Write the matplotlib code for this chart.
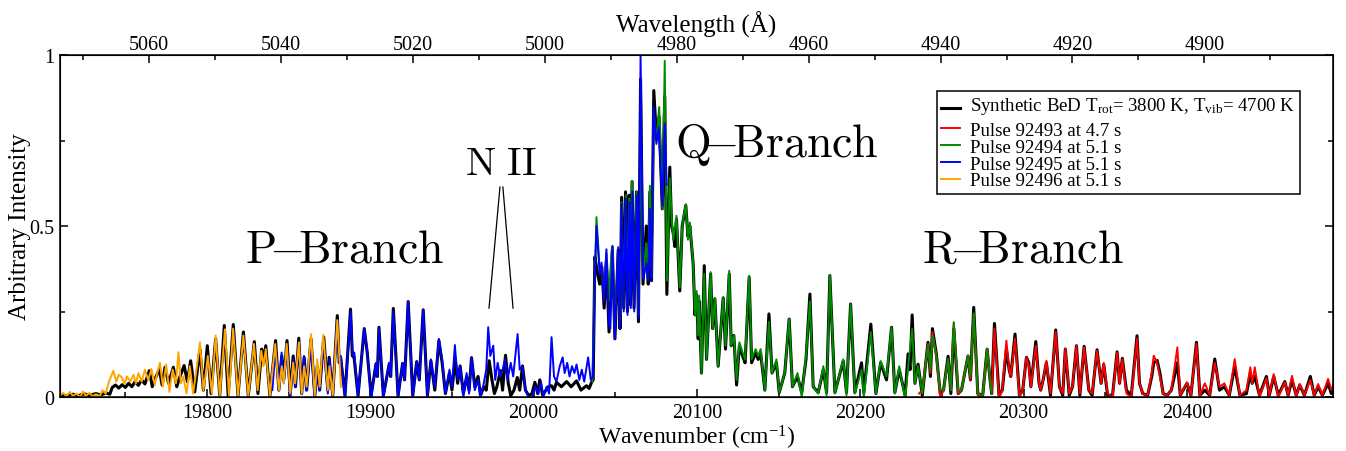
import numpy as np
import matplotlib
matplotlib.use("Agg")
import matplotlib.pyplot as plt
from matplotlib.ticker import MultipleLocator, FixedLocator, FuncFormatter

plt.rcParams.update({
    "font.family": "Liberation Serif",
    "mathtext.fontset": "custom",
    "mathtext.rm": "Liberation Serif",
    "mathtext.it": "Liberation Serif:italic",
    "font.size": 14,
})

# (wavenumber cm^-1, intensity) vertices
bed_pts = [
    (19710, 0.006), (19714, 0.004), (19718, 0.008), (19721, 0.004), (19725, 0.009), (19728, 0.005),
    (19732, 0.010), (19735, 0.006), (19738, 0.012), (19740.5, 0.008), (19742, 0.028), (19744, 0.035),
    (19746, 0.026), (19748, 0.036), (19750, 0.028), (19752, 0.040), (19754, 0.030), (19756, 0.045),
    (19758, 0.034), (19760, 0.050), (19762, 0.038), (19764.7, 0.077), (19766.5, 0.030), (19768, 0.050),
    (19770.8, 0.082), (19772.5, 0.035), (19774.3, 0.087), (19776.5, 0.040), (19779.4, 0.087),
    (19781.5, 0.030), (19783.5, 0.060), (19786, 0.092), (19788, 0.045), (19790, 0.106), (19792.5, 0.015),
    (19795.7, 0.140), (19797.8, 0.020), (19800.2, 0.150), (19802.5, 0.010), (19805.3, 0.170),
    (19807.8, 0.005), (19810.6, 0.209), (19813, 0.004), (19816.1, 0.212), (19819, 0.004),
    (19822.3, 0.190), (19825.3, 0.004), (19829, 0.162), (19831.2, 0.010), (19833.5, 0.140),
    (19834.6, 0.100), (19836, 0.150), (19838.5, 0.004), (19842, 0.165), (19844, 0.020), (19845.8, 0.120),
    (19847, 0.050), (19849, 0.165), (19851, 0.010), (19852.8, 0.120), (19854.2, 0.030), (19856.2, 0.172),
    (19858, 0.010), (19859.5, 0.116), (19861, 0.020), (19863.7, 0.170), (19866, 0.004), (19867.5, 0.090),
    (19869, 0.020), (19871.5, 0.175), (19874, 0.020), (19874.8, 0.116), (19877, 0.004), (19879.8, 0.238),
    (19881, 0.100), (19881.8, 0.116), (19884.5, 0.004), (19887.9, 0.257), (19889, 0.120), (19890, 0.119),
    (19892.5, 0.004), (19896.3, 0.200), (19898.1, 0.131), (19900.5, 0.004), (19903.5, 0.097),
    (19904.3, 0.060), (19905.3, 0.204), (19908, 0.004), (19911.6, 0.097), (19912.5, 0.060),
    (19914.1, 0.259), (19917, 0.004), (19919.8, 0.098), (19921, 0.050), (19923.2, 0.279), (19926, 0.004),
    (19928.4, 0.103), (19930, 0.050), (19932.4, 0.255), (19935, 0.004), (19937.1, 0.106), (19939.5, 0.020),
    (19942, 0.165), (19944, 0.100), (19946, 0.010), (19948.5, 0.070), (19950, 0.020), (19952, 0.110),
    (19953.5, 0.040), (19955, 0.091), (19957, 0.010), (19959, 0.060), (19960.5, 0.020), (19962, 0.115),
    (19964, 0.030), (19966, 0.060), (19967.5, 0.004), (19969.5, 0.030), (19971, 0.020), (19972.8, 0.106),
    (19974.5, 0.050), (19976, 0.010), (19977.5, 0.030), (19979.7, 0.077), (19981, 0.020), (19982.8, 0.122),
    (19984.5, 0.040), (19986, 0.004), (19988, 0.020), (19990, 0.057), (19991.5, 0.020), (19993.2, 0.091),
    (19995, 0.020), (19997, 0.004), (19999, 0.010), (20000.8, 0.043), (20002.5, 0.010), (20003.8, 0.050),
    (20005.5, 0.006), (20009, 0.030), (20011, 0.033), (20012.5, 0.020), (20014, 0.043), (20017, 0.030),
    (20020.2, 0.045), (20023, 0.030), (20026.3, 0.047), (20029, 0.020), (20032.4, 0.033), (20034, 0.025),
    (20035.5, 0.043), (20036.5, 0.050), (20037.5, 0.410), (20039.2, 0.360), (20040.5, 0.330),
    (20041.8, 0.380), (20043.2, 0.260), (20044.6, 0.400), (20046.2, 0.190), (20048.2, 0.430),
    (20049.8, 0.170), (20051.8, 0.430), (20052.9, 0.200), (20053.9, 0.584), (20055.2, 0.260),
    (20056.3, 0.600), (20057.5, 0.250), (20058.5, 0.590), (20059.3, 0.270), (20060.3, 0.630),
    (20061.5, 0.260), (20063.0, 0.600), (20064.2, 0.220), (20065.5, 0.930), (20067.0, 0.330),
    (20069.0, 0.500), (20070.2, 0.330), (20071.2, 0.600), (20072.2, 0.340), (20073.6, 0.896),
    (20075.2, 0.760), (20076.8, 0.820), (20078.8, 0.550), (20080.3, 0.880), (20081.6, 0.300),
    (20083.4, 0.672), (20084.5, 0.500), (20085.5, 0.480), (20086.5, 0.440), (20087.5, 0.520),
    (20089.5, 0.310), (20091, 0.500), (20093.2, 0.560), (20094.5, 0.470), (20095.7, 0.500),
    (20097.7, 0.390), (20098.8, 0.240), (20099.8, 0.300), (20100.8, 0.170), (20101.4, 0.280),
    (20102.8, 0.070), (20104.5, 0.384), (20105.9, 0.110), (20108.4, 0.360), (20109.6, 0.200),
    (20111, 0.287), (20113, 0.090), (20116.1, 0.290), (20117.5, 0.140), (20119.8, 0.360), (20121, 0.150),
    (20122.6, 0.180), (20124.3, 0.035), (20126, 0.150), (20128, 0.120), (20129.5, 0.100), (20132, 0.350),
    (20133.5, 0.100), (20136, 0.130), (20137.5, 0.110), (20139, 0.130), (20141.6, 0.020), (20144.1, 0.243),
    (20146, 0.070), (20148.7, 0.100), (20150.4, 0.013), (20153.8, 0.070), (20156.5, 0.228),
    (20158.5, 0.030), (20161.6, 0.060), (20164.2, 0.013), (20166.8, 0.110), (20169.2, 0.301),
    (20171.2, 0.030), (20174.3, 0.013), (20177.4, 0.080), (20179.4, 0.013), (20181.4, 0.355),
    (20184.5, 0.013), (20189.6, 0.105), (20191.6, 0.013), (20194.1, 0.272), (20196.7, 0.013),
    (20200.8, 0.100), (20202.2, 0.013), (20206.5, 0.213), (20209.6, 0.010), (20212.5, 0.100),
    (20216.1, 0.050), (20219.2, 0.204), (20221.2, 0.013), (20223.9, 0.080), (20227.5, 0.005),
    (20229.3, 0.126), (20230.5, 0.080), (20231.8, 0.240), (20233.5, 0.040), (20235.4, 0.096),
    (20238, 0.005), (20241.5, 0.160), (20243, 0.060), (20244.2, 0.200), (20246.6, 0.126), (20249, 0.010),
    (20251, 0.020), (20253.8, 0.119), (20255.5, 0.010), (20257.3, 0.200), (20260, 0.010), (20262, 0.020),
    (20266, 0.120), (20267.5, 0.050), (20269.5, 0.262), (20272, 0.010), (20275, 0.005), (20277.7, 0.140),
    (20279.5, 0.050), (20280.5, 0.010), (20282.2, 0.215), (20285, 0.005), (20287, 0.020), (20289.5, 0.140),
    (20291.2, 0.080), (20292.2, 0.060), (20294.8, 0.184), (20297.5, 0.005), (20299.5, 0.020),
    (20301.8, 0.116), (20303.2, 0.100), (20304.5, 0.030), (20307.5, 0.162), (20309.5, 0.040),
    (20310.5, 0.020), (20312, 0.050), (20314, 0.100), (20316.5, 0.005), (20319.7, 0.196), (20322, 0.030),
    (20324, 0.005), (20325.6, 0.140), (20328, 0.005), (20330, 0.030), (20332.4, 0.150), (20334.5, 0.005),
    (20337.1, 0.148), (20340, 0.020), (20342, 0.005), (20345, 0.138), (20347.5, 0.040), (20349.1, 0.095),
    (20351.5, 0.005), (20354.5, 0.005), (20357.3, 0.132), (20358.8, 0.040), (20360.5, 0.113),
    (20363, 0.020), (20366, 0.005), (20369.5, 0.179), (20371, 0.040), (20373, 0.010), (20376, 0.005),
    (20378.5, 0.060), (20379.7, 0.100), (20381.8, 0.107), (20383.5, 0.070), (20385.5, 0.010),
    (20388, 0.005), (20390.5, 0.020), (20394.2, 0.100), (20396, 0.005), (20400.1, 0.040), (20402.5, 0.005),
    (20405.9, 0.160), (20408, 0.005), (20411, 0.020), (20414, 0.005), (20417.1, 0.111), (20420, 0.020),
    (20423, 0.030), (20426, 0.005), (20429.3, 0.090), (20432.5, 0.005), (20436.5, 0.010), (20438.9, 0.070),
    (20440, 0.040), (20441.6, 0.060), (20444.5, 0.005), (20448.7, 0.060), (20450.5, 0.005),
    (20453.2, 0.060), (20456, 0.005), (20460, 0.045), (20462, 0.005), (20464.4, 0.050), (20467, 0.005),
    (20469.1, 0.035), (20472, 0.005), (20475.6, 0.060), (20478, 0.005), (20480.4, 0.030), (20483, 0.005),
    (20486.5, 0.040), (20488.5, 0.010), (20490, 0.020),
]

p92493_pts = [
    (20236, 0.010), (20238, 0.020), (20241.5, 0.155), (20243, 0.070), (20244.2, 0.190), (20246.6, 0.120),
    (20249, 0.000), (20251, 0.020), (20253.8, 0.110), (20255.5, 0.020), (20257.3, 0.218), (20260, 0.010),
    (20262, 0.020), (20266, 0.120), (20267.5, 0.050), (20269.5, 0.240), (20272, 0.005), (20275, 0.000),
    (20277.7, 0.140), (20279.5, 0.050), (20280.5, 0.010), (20282.2, 0.200), (20285, -0.005), (20287, 0.020),
    (20289.5, 0.165), (20291.2, 0.080), (20292.2, 0.060), (20294.8, 0.170), (20297.5, 0.000),
    (20299.5, 0.020), (20301.8, 0.116), (20303.2, 0.090), (20304.5, 0.030), (20307.5, 0.150),
    (20309.5, 0.040), (20310.5, 0.020), (20312, 0.050), (20314, 0.106), (20316.5, 0.010), (20319.7, 0.190),
    (20322, 0.030), (20324, 0.010), (20325.6, 0.142), (20328, 0.010), (20330, 0.030), (20332.4, 0.150),
    (20334.5, 0.010), (20337.1, 0.145), (20340, 0.020), (20342, 0.010), (20345, 0.135), (20347.5, 0.040),
    (20349.1, 0.100), (20351.5, 0.010), (20354.5, 0.000), (20357.3, 0.130), (20358.8, 0.040),
    (20360.5, 0.110), (20363, 0.010), (20366, 0.000), (20369.5, 0.170), (20371, 0.040), (20373, 0.010),
    (20376, 0.005), (20378.5, 0.070), (20379.7, 0.121), (20381.8, 0.100), (20383.5, 0.060),
    (20385.5, 0.010), (20388, 0.005), (20390.5, 0.020), (20394.2, 0.145), (20396, 0.005), (20400.1, 0.043),
    (20402.5, 0.005), (20405.9, 0.155), (20408, 0.005), (20411, 0.040), (20414, 0.005), (20417.1, 0.100),
    (20420, 0.030), (20423, 0.040), (20426, 0.005), (20429.3, 0.111), (20432.5, 0.005), (20436.5, 0.020),
    (20438.9, 0.087), (20440, 0.040), (20441.6, 0.087), (20444.5, 0.000), (20448.7, 0.055),
    (20450.5, 0.005), (20453.2, 0.067), (20456, 0.000), (20460, 0.043), (20462, 0.005), (20464.4, 0.062),
    (20467, 0.000), (20469.1, 0.038), (20472, 0.005), (20475.6, 0.050), (20478, 0.005), (20480.4, 0.038),
    (20483, 0.005), (20486.5, 0.053), (20488.5, 0.020), (20490, 0.040),
]

p92494_pts = [
    (20036, 0.045), (20037.2, 0.300), (20038.5, 0.526), (20039.5, 0.450), (20040.5, 0.370),
    (20041.6, 0.380), (20043, 0.300), (20044.6, 0.420), (20046, 0.280), (20047.5, 0.410), (20048.3, 0.440),
    (20049.7, 0.190), (20051.8, 0.430), (20052.9, 0.220), (20053.8, 0.570), (20055.2, 0.270),
    (20056.5, 0.590), (20057.5, 0.260), (20058.6, 0.580), (20059.3, 0.290), (20060.2, 0.632),
    (20061.5, 0.280), (20063, 0.600), (20064.2, 0.240), (20065.5, 0.750), (20067.1, 0.350), (20069, 0.450),
    (20070.1, 0.350), (20071.2, 0.618), (20072.2, 0.350), (20073.6, 0.830), (20075.2, 0.750),
    (20076.9, 0.848), (20078.9, 0.550), (20080.3, 0.983), (20081.7, 0.340), (20083.4, 0.640),
    (20084.6, 0.520), (20085.5, 0.460), (20087.5, 0.530), (20089.5, 0.320), (20091, 0.500),
    (20093.2, 0.564), (20094.5, 0.460), (20095.7, 0.510), (20097.7, 0.390), (20098.8, 0.240),
    (20099.8, 0.310), (20100.8, 0.180), (20101.4, 0.296), (20102.8, 0.070), (20104.5, 0.360),
    (20105.9, 0.110), (20108.4, 0.365), (20109.6, 0.200), (20111, 0.290), (20113, 0.090), (20116.1, 0.290),
    (20117.5, 0.150), (20119.8, 0.369), (20121, 0.150), (20122.6, 0.180), (20124.3, 0.050), (20126, 0.160),
    (20128, 0.130), (20129.5, 0.110), (20132, 0.355), (20133.5, 0.110), (20136, 0.140), (20137.5, 0.120),
    (20139, 0.140), (20141.6, 0.020), (20144.1, 0.220), (20146, 0.070), (20148.7, 0.110), (20150.4, 0.013),
    (20153.8, 0.070), (20156.5, 0.228), (20158.5, 0.030), (20161.6, 0.070), (20164.2, 0.000),
    (20166.8, 0.120), (20169.2, 0.280), (20171.2, 0.030), (20174.3, 0.010), (20177.4, 0.090),
    (20179.4, 0.005), (20181.4, 0.355), (20184.5, 0.010), (20189.6, 0.110), (20191.6, 0.005),
    (20194.1, 0.272), (20196.7, 0.010), (20200.8, 0.080), (20202.2, 0.000), (20206.5, 0.190),
    (20209.6, 0.010), (20212.5, 0.105), (20216.1, 0.060), (20219.2, 0.204), (20221.2, 0.010),
    (20223.9, 0.090), (20227.5, -0.005), (20229.8, 0.110), (20231.8, 0.199), (20233.5, 0.040),
    (20235.4, 0.090), (20238, 0.010), (20241.5, 0.150), (20243, 0.080), (20244.2, 0.180), (20246.6, 0.120),
    (20249, 0.020), (20251, 0.020), (20253.8, 0.110), (20255.5, 0.020), (20257.3, 0.218), (20260, 0.020),
    (20262, 0.020), (20266, 0.120), (20267.5, 0.060), (20269.5, 0.245), (20272, 0.010), (20275, 0.005),
    (20277.7, 0.140), (20279.5, 0.050), (20280.5, 0.010),
]

p92495_pts = [
    (19840, 0.020), (19842, 0.140), (19844, 0.020), (19845.7, 0.130), (19847, 0.040), (19849, 0.150),
    (19851, -0.010), (19852.8, 0.110), (19854, 0.030), (19856.3, 0.160), (19858, 0.010), (19859.4, 0.120),
    (19861, 0.020), (19863.5, 0.155), (19866, -0.005), (19867.5, 0.080), (19869, 0.020), (19871.2, 0.160),
    (19874, 0.010), (19875, 0.110), (19877, 0.000), (19879.8, 0.225), (19881, 0.110), (19882, 0.120),
    (19884.5, 0.000), (19888, 0.250), (19889.2, 0.120), (19890.2, 0.130), (19892.5, 0.000),
    (19896.3, 0.200), (19898, 0.140), (19900.5, -0.005), (19903.5, 0.100), (19904.3, 0.060),
    (19905.3, 0.200), (19908, 0.000), (19911.6, 0.100), (19912.5, 0.060), (19914.1, 0.250), (19917, 0.000),
    (19919.8, 0.100), (19921, 0.050), (19923.2, 0.279), (19926, 0.000), (19928.4, 0.105), (19930, 0.050),
    (19932.4, 0.255), (19935, 0.000), (19937.1, 0.110), (19939.5, 0.030), (19942, 0.170), (19944, 0.110),
    (19946, 0.010), (19948.5, 0.080), (19950, 0.030), (19951.8, 0.152), (19953.5, 0.050), (19955, 0.090),
    (19957, 0.000), (19959, 0.070), (19960.5, 0.010), (19962, 0.115), (19964, 0.020), (19966, 0.050),
    (19967.5, 0.000), (19969.5, 0.040), (19971, 0.080), (19972.2, 0.204), (19973.5, 0.120),
    (19975.3, 0.150), (19976.5, 0.050), (19978, 0.100), (19979.5, 0.060), (19981, 0.080), (19982.5, 0.110),
    (19984, 0.050), (19986, 0.100), (19987.5, 0.060), (19990.2, 0.184), (19991.5, 0.080), (19993, 0.090),
    (19995, 0.020), (19997, 0.000), (19999, -0.005), (20001, 0.030), (20003, 0.010), (20004.5, 0.045),
    (20006, 0.000), (20008, 0.030), (20009.5, 0.010), (20011, 0.175), (20012.5, 0.060), (20014, 0.045),
    (20016, 0.090), (20017.8, 0.116), (20019, 0.070), (20020.6, 0.100), (20022, 0.060), (20023.5, 0.090),
    (20025, 0.070), (20026.3, 0.095), (20028, 0.050), (20029.5, 0.080), (20031, 0.045), (20033.4, 0.116),
    (20035, 0.050), (20036.3, 0.060), (20037.5, 0.350), (20038.5, 0.500), (20039.5, 0.430),
    (20040.5, 0.360), (20041.6, 0.393), (20043, 0.280), (20044.6, 0.432), (20046, 0.220), (20047, 0.200),
    (20048.3, 0.442), (20049.7, 0.170), (20051.8, 0.438), (20052.8, 0.200), (20053.8, 0.565),
    (20055.2, 0.250), (20056.5, 0.580), (20057.5, 0.240), (20058.8, 0.570), (20059.5, 0.260),
    (20060.5, 0.600), (20061.6, 0.250), (20063.2, 0.590), (20064.3, 0.230), (20065.5, 1.000),
    (20067.1, 0.345), (20069.1, 0.390), (20070.1, 0.340), (20071.2, 0.550), (20072.2, 0.340),
    (20073.4, 0.848), (20075.2, 0.740), (20076.6, 0.790), (20078.8, 0.560), (20080.3, 0.800),
    (20081.5, 0.620),
]

p92496_pts = [
    (19710, 0.004), (19712, 0.012), (19714, 0.002), (19716, 0.015), (19718, 0.003), (19720, 0.010),
    (19722.5, 0.000), (19724, 0.016), (19726, 0.004), (19728, 0.012), (19730, 0.002), (19732, 0.008),
    (19734.5, 0.003), (19736, 0.020), (19738, 0.010), (19740, 0.045), (19742.7, 0.077), (19744.5, 0.045),
    (19746, 0.065), (19747.8, 0.058), (19749.5, 0.038), (19751, 0.060), (19753, 0.045), (19755, 0.065),
    (19756.5, 0.040), (19758, 0.070), (19760, 0.045), (19762, 0.080), (19764, 0.050), (19766, 0.082),
    (19768, 0.035), (19769.5, 0.070), (19771.2, 0.100), (19773, 0.030), (19775, 0.095), (19777, 0.015),
    (19779, 0.080), (19781, 0.040), (19782.5, 0.131), (19784, 0.040), (19785.5, 0.060), (19787.5, 0.010),
    (19789.5, 0.090), (19791.5, 0.010), (19793, 0.060), (19795.7, 0.160), (19797.8, 0.020), (19799, 0.060),
    (19800.5, 0.120), (19803, 0.010), (19805.3, 0.180), (19807.8, 0.004), (19811, 0.198), (19813.5, 0.003),
    (19816, 0.200), (19819, 0.004), (19822.3, 0.180), (19825.3, 0.004), (19828.8, 0.155), (19831, 0.020),
    (19833.3, 0.135), (19834.6, 0.090), (19836, 0.140), (19838.5, 0.004), (19841.8, 0.155), (19844, 0.020),
    (19845.8, 0.090), (19847, 0.040), (19848.8, 0.155), (19851, 0.010), (19852.8, 0.100), (19854, 0.040),
    (19856.3, 0.160), (19858, 0.010), (19859.5, 0.090), (19861, 0.030), (19863.7, 0.184), (19866, 0.004),
    (19867.5, 0.110), (19869, 0.030), (19871.2, 0.182), (19874, 0.020), (19875, 0.090), (19877, 0.004),
    (19879.8, 0.225), (19881.5, 0.080), (19882, 0.030),
]

series = [
    (bed_pts, "black", 2.2, r"Synthetic BeD T$_{\rm rot}$= 3800 K, T$_{\rm vib}$= 4700 K"),
    (p92493_pts, "#ff0000", 1.4, "Pulse 92493 at 4.7 s"),
    (p92494_pts, "#008b00", 1.4, "Pulse 92494 at 5.1 s"),
    (p92495_pts, "#0000ff", 1.4, "Pulse 92495 at 5.1 s"),
    (p92496_pts, "#ffa500", 1.4, "Pulse 92496 at 5.1 s"),
]

fig = plt.figure(figsize=(13.46, 4.52), dpi=100)
ax = fig.add_axes([60 / 1346, 1 - 398 / 452, 1273 / 1346, 342 / 452])

for pts, color, lw, label in series:
    wn, inten = np.array(pts).T
    ax.plot(wn, inten, color=color, lw=lw, label=label, solid_joinstyle="round")

ax.set_xlim(19710, 20489.5)
ax.set_ylim(0, 1)
ax.xaxis.set_major_locator(MultipleLocator(100))
ax.xaxis.set_minor_locator(MultipleLocator(50))
ax.yaxis.set_major_locator(FixedLocator([0, 0.5, 1]))
ax.yaxis.set_minor_locator(FixedLocator([0.25, 0.75]))
ax.yaxis.set_major_formatter(FuncFormatter(lambda v, p: f"{v:g}"))
ax.tick_params(which="both", direction="in", top=False, right=True, labelsize=14.5, width=1.1)
ax.tick_params(which="major", length=6, pad=4)
ax.tick_params(which="minor", length=3.5)
for s in ax.spines.values():
    s.set_linewidth(1.1)
ax.set_xlabel(r"Wavenumber (cm$^{-1}$)", fontsize=17, labelpad=1)
ax.set_ylabel("Arbitrary Intensity", fontsize=18, labelpad=-1)

# top axis: wavelength, linear in Angstrom
top = ax.twiny()
top.set_xlim(5073.5, 4880.5)
top.xaxis.set_major_locator(MultipleLocator(20))
top.xaxis.set_minor_locator(MultipleLocator(10))
top.tick_params(which="both", direction="in", labelsize=14.5, width=1.1)
top.tick_params(which="major", length=6, pad=0.5)
top.tick_params(which="minor", length=3.5)
top.set_xlabel("Wavelength (Å)", fontsize=18, labelpad=3)

# branch annotations
ax.text(19823.3, 0.395, r"$\mathrm{P}\!{-}\!\mathrm{Branch}$", fontsize=33, math_fontfamily="cm")
ax.text(20086.5, 0.705, r"$\mathrm{Q}\!{-}\!\mathrm{Branch}$", fontsize=33, math_fontfamily="cm")
ax.text(20237.7, 0.395, r"$\mathrm{R}\!{-}\!\mathrm{Branch}$", fontsize=33, math_fontfamily="cm")
ax.text(19957.9, 0.652, r"$\mathrm{N\ II}$", fontsize=29, math_fontfamily="cm")
ax.plot([19972.7, 19979.4], [0.26, 0.614], color="black", lw=0.9)
ax.plot([19981.2, 19987.4], [0.614, 0.26], color="black", lw=0.9)

leg = ax.legend(loc="upper right", bbox_to_anchor=(0.974, 0.895), fontsize=13.6,
                frameon=True, fancybox=False, framealpha=1, edgecolor="black",
                handlelength=1.0, handletextpad=0.55, labelspacing=-0.02,
                borderpad=0.22, borderaxespad=0)
leg.get_frame().set_linewidth(1.1)
# the first entry sits a little apart from the others, as in the original
first = leg.get_texts()[0]
first.set_text(first.get_text() + "\n")
first.set_linespacing(0.15)

fig.savefig("out.png", dpi=100)
